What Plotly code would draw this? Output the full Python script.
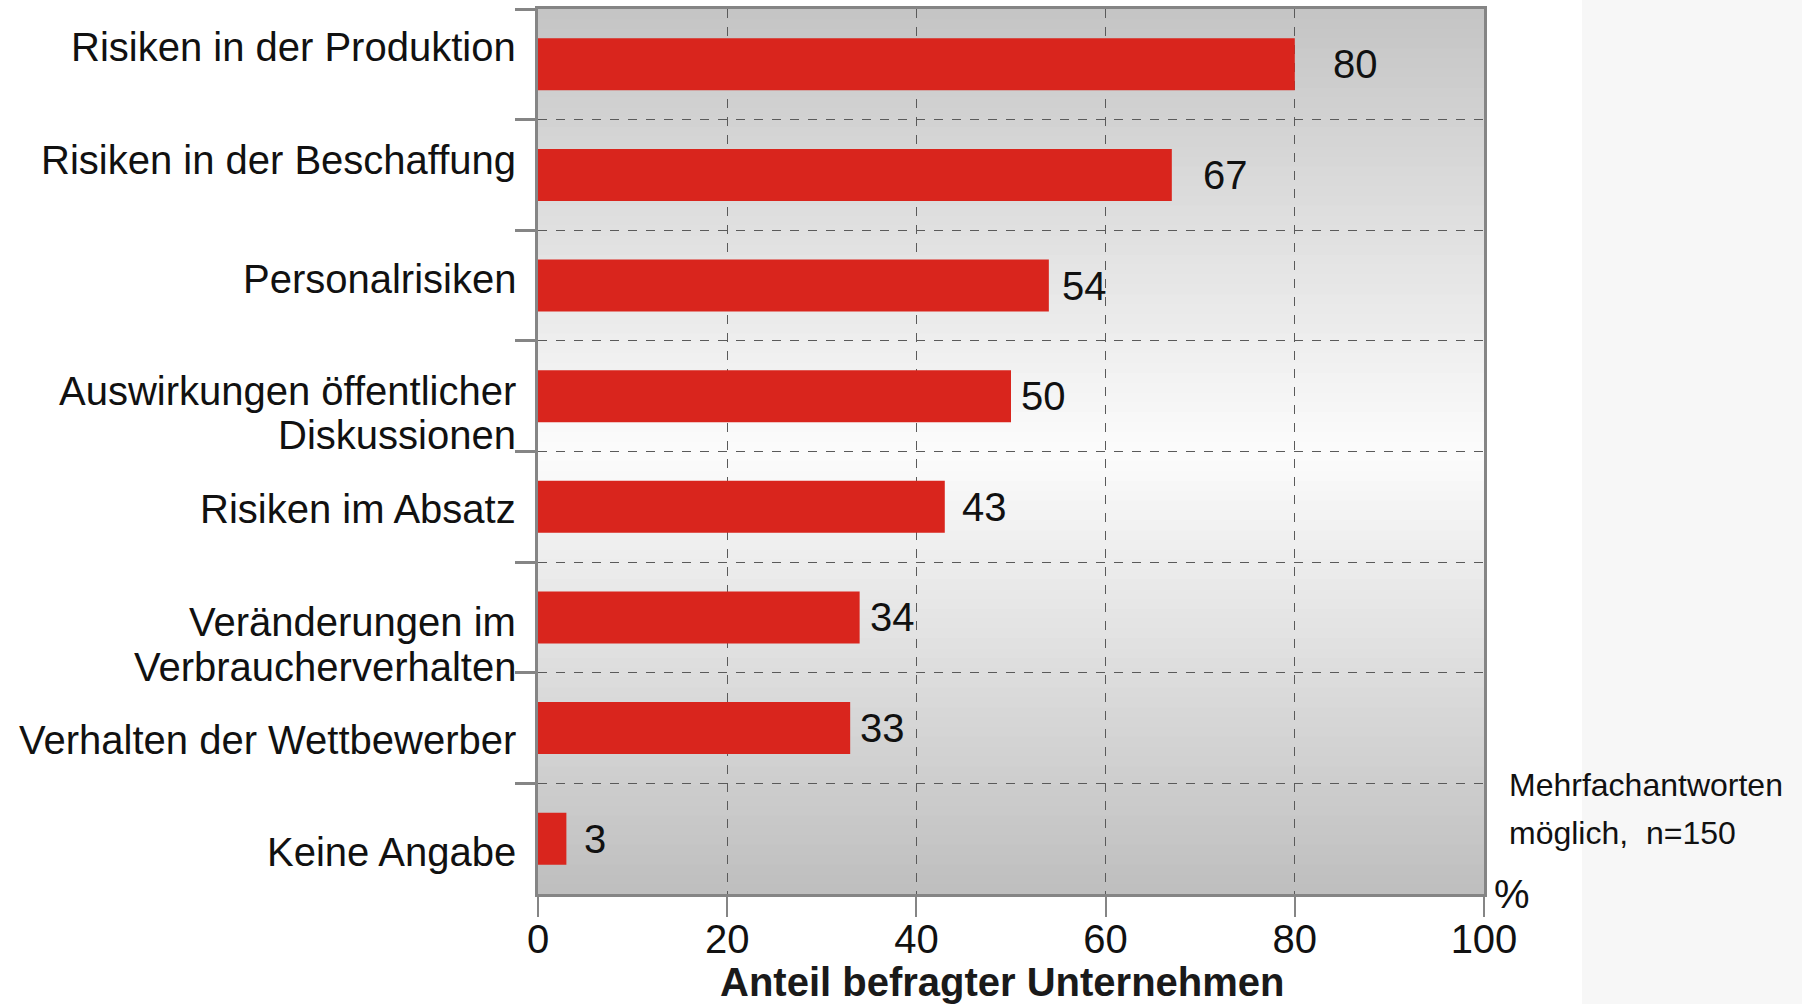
import plotly.graph_objects as go

CATEGORIES = [
    "Risiken in der Produktion",
    "Risiken in der Beschaffung",
    "Personalrisiken",
    "Auswirkungen öffentlicher<br>Diskussionen",
    "Risiken im Absatz",
    "Veränderungen im<br>Verbraucherverhalten",
    "Verhalten der Wettbewerber",
    "Keine Angabe",
]
SHARES = [80, 67, 54, 50, 43, 34, 33, 3]
X_TICKS = [0, 20, 40, 60, 80, 100]

X_TITLE = "Anteil befragter Unternehmen"
NOTE_LINES = ["Mehrfachantworten", "möglich,  n=150"]
UNIT = "%"

# the original is hand laid out: value labels and category labels are not at a fixed offset
LABEL_GAPS = [36, 29, 11, 8, 15, 8, 8, 16]
CATEGORY_SHIFTS = [17, 15, 7, -17, -2, -27, -12, -13]
CATEGORY_LINE_PX = 44.5  # tighter than plotly's own 1.3em line spacing

FONT = "Liberation Sans, Arial, sans-serif"
BAR_COLOR = "#d9251d"
AXIS_COLOR = "#858585"
GRID_COLOR = "#5a5a5a"
PANEL_COLOR = "#f7f7f7"
TEXT_COLOR = "#111111"

# vertical grey -> white -> grey background of the plot area
BG_TOP, BG_MID, BG_BOTTOM = 196, 252, 190
BG_STEPS = 90


def _bg_grey(t):
    # t = 0 at the bottom, 1 at the top
    if t < 0.5:
        v = BG_BOTTOM + (BG_MID - BG_BOTTOM) * (t / 0.5)
    else:
        v = BG_MID + (BG_TOP - BG_MID) * ((t - 0.5) / 0.5)
    v = int(round(v))
    return f"rgb({v},{v},{v})"


fig = go.Figure()

fig.add_trace(go.Bar(
    x=SHARES,
    y=CATEGORIES,
    orientation="h",
    width=0.47,
    marker=dict(color=BAR_COLOR, line_width=0),
    hoverinfo="x+y",
    showlegend=False,
))

for cat, val, gap in zip(CATEGORIES, SHARES, LABEL_GAPS):
    fig.add_annotation(
        x=val, y=cat, xref="x", yref="y",
        text=str(val), showarrow=False,
        xanchor="left", yanchor="middle", xshift=gap,
        font=dict(family=FONT, size=40, color=TEXT_COLOR),
    )

# category labels as annotations (one per line) so each can sit where the original puts it
for cat, shift in zip(CATEGORIES, CATEGORY_SHIFTS):
    lines = cat.split("<br>")
    for i, line in enumerate(lines):
        offset = (i - (len(lines) - 1) / 2) * CATEGORY_LINE_PX
        fig.add_annotation(
            x=0, y=cat, xref="paper", yref="y",
            text=line, showarrow=False,
            xanchor="right", yanchor="middle", xshift=-20, yshift=shift - offset,
            font=dict(family=FONT, size=40, color=TEXT_COLOR),
        )

# gradient background, drawn as thin bands below the grid
for i in range(BG_STEPS):
    y0 = i / BG_STEPS
    y1 = (i + 1) / BG_STEPS
    fig.add_shape(
        type="rect", xref="x domain", yref="y domain",
        x0=0, x1=1, y0=y0, y1=y1 + 0.002,
        fillcolor=_bg_grey((y0 + y1) / 2), line_width=0, layer="below",
    )

# light side panel on the right
fig.add_shape(
    type="rect", xref="paper", yref="paper",
    x0=1.1036, x1=1.5, y0=-0.3, y1=1.2,
    fillcolor=PANEL_COLOR, line_width=0, layer="below",
)

fig.add_annotation(
    x=1.024, y=0.1232, xref="paper", yref="paper",
    text=NOTE_LINES[0], showarrow=False, xanchor="left", yanchor="middle",
    font=dict(family=FONT, size=32, color=TEXT_COLOR),
)
fig.add_annotation(
    x=1.024, y=0.0689, xref="paper", yref="paper",
    text=NOTE_LINES[1], showarrow=False, xanchor="left", yanchor="middle",
    font=dict(family=FONT, size=32, color=TEXT_COLOR),
)
fig.add_annotation(
    x=1.008, y=0.0, xref="paper", yref="paper",
    text=UNIT, showarrow=False, xanchor="left", yanchor="middle",
    font=dict(family=FONT, size=40, color=TEXT_COLOR),
)
fig.add_annotation(
    x=0.5, y=-0.1028, xref="paper", yref="paper",
    text=f"<b>{X_TITLE}</b>", showarrow=False, xanchor="center", yanchor="middle",
    xshift=-9, yshift=3,
    font=dict(family=FONT, size=40, color="#1a1a1a"),
)

fig.update_layout(
    template="none",
    width=1802,
    height=1004,
    margin=dict(l=538, r=318, t=9, b=110, pad=0),
    paper_bgcolor="white",
    plot_bgcolor="white",
    font=dict(family=FONT, size=40, color=TEXT_COLOR),
    bargap=0.53,
    showlegend=False,
    xaxis=dict(
        range=[0, 100],
        tickvals=X_TICKS,
        ticks="outside",
        ticklen=20,
        tickwidth=2,
        tickcolor=AXIS_COLOR,
        ticklabelstandoff=-12,
        showline=True,
        linecolor=AXIS_COLOR,
        linewidth=3,
        mirror=True,
        showgrid=True,
        gridcolor=GRID_COLOR,
        gridwidth=1,
        griddash="dash",
        zeroline=False,
        automargin=False,
        tickfont=dict(family=FONT, size=40, color=TEXT_COLOR),
    ),
    yaxis=dict(
        type="category",
        categoryorder="array",
        categoryarray=CATEGORIES,
        autorange="reversed",
        tickson="boundaries",
        ticks="outside",
        ticklen=20,
        tickwidth=3,
        tickcolor=AXIS_COLOR,
        showticklabels=False,
        showline=True,
        linecolor=AXIS_COLOR,
        linewidth=3,
        mirror=True,
        showgrid=True,
        gridcolor=GRID_COLOR,
        gridwidth=1,
        griddash="dash",
        zeroline=False,
        automargin=False,
    ),
)

# the page's default body margin would push the fixed-size figure off by 8px
fig.write_html("out.html", config={"displayModeBar": False},
               post_script="document.body.style.margin='0';")
